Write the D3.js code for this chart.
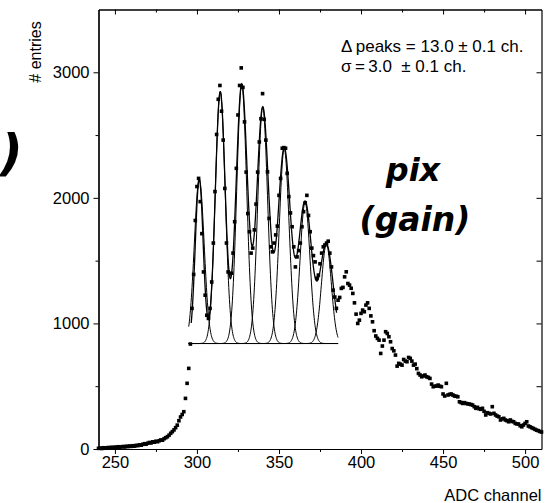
<!DOCTYPE html>
<html>
<head>
<meta charset="utf-8">
<script src="https://cdn.jsdelivr.net/npm/d3@7"></script>
<style>
  html, body { margin: 0; padding: 0; background: #fff; }
  svg { display: block; }
</style>
</head>
<body>
<script>
// ADC spectrum: entries per channel, starting at channel 240
const firstChannel = 240;
const counts = [
  5, 8, 4, 10, 6, 9, 12, 8, 14, 10,
  15, 13, 18, 14, 17, 20, 16, 22, 19, 24,
  21, 26, 23, 29, 27, 33, 30, 37, 42, 38,
  46, 52, 48, 57, 54, 62, 58, 66, 72, 70,
  82, 90, 98, 110, 125, 138, 152, 170, 190, 225,
  255, 275, 297, 403, 523, 642, 836,
  1120, 1390, 1820, 2090, 2155, 1970, 1715, 1410, 1225, 1065, 1040, 1120, 1330,
  1640, 2050, 2505, 2785, 2895, 2690, 2460, 2075, 1640, 1410,
  1395, 1400, 1560, 1810, 2235, 2660, 2895, 3035, 2880, 2605,
  2205, 1875, 1730, 1560, 1600, 1745, 1950, 2205, 2445, 2630,
  2830, 2625, 2460, 2207, 1836, 1610, 1570, 1640, 1705, 1775,
  2020, 2155, 2395, 2400, 2395, 2195, 2010, 1880, 1770, 1610,
  1450, 1530, 1580, 1640, 1770, 1890, 1960, 2020, 1860, 1730,
  1600, 1540, 1490, 1360, 1385, 1475, 1560, 1610, 1625, 1640,
  1655, 1560, 1450, 1265, 1210, 1120, 1185, 1207, 1279, 1287,
  1371, 1411, 1318, 1305, 1280, 1239, 1164, 1074, 1000, 1026,
  1080, 1106, 1093, 1146, 1164, 1120, 1060, 1013, 942, 900,
  881, 867, 761, 820, 867, 934, 920, 894, 854, 800,
  782, 748, 660, 682, 675, 668, 713, 700, 695, 729,
  722, 700, 668, 676, 640, 602, 589, 575, 582, 589,
  575, 570, 562, 517, 496, 500, 501, 509, 500, 496,
  438, 422, 523, 430, 435, 438, 430, 422, 420, 416,
  376, 370, 363, 369, 363, 360, 358, 354, 350, 337,
  324, 332, 320, 316, 324, 300, 271, 289, 284, 279,
  337, 284, 271, 262, 257, 231, 240, 244, 231, 225,
  217, 231, 220, 217, 204, 200, 199, 185, 177, 191,
  204, 217, 183, 177, 170, 164, 157, 150, 146, 140, 135
];

// Multi-peak Gaussian fit (photo-electron peaks)
const peakCenters    = [301.4, 314.2, 327.3, 340.1, 353.2, 365.9, 378.9];
const peakAmplitudes = [1310, 2005, 2065, 1880, 1550, 1125, 790];
const envelopeWidths = [2.4, 3.0, 3.45, 3.65, 3.8, 3.95, 4.05]; // widths of the summed fit curve
const componentSigma = 3.0;                                       // width of each drawn component
const fitBaseline    = 840;
const fitRange       = [296.5, 385];
const componentRange = [295, 386];

// Axis ticks
const xMajorTicks = [250, 300, 350, 400, 450, 500];
const xMinorTicks = [275, 325, 375, 425, 475];
const yMajorTicks = [0, 1000, 2000, 3000];
const yMinorTicks = [500, 1500, 2500];
const yRightTicks = [500, 1000, 1500, 2000, 2500, 3000];

const xLabel = "ADC channel";
const yLabel = "# entries";
const fitText = ["\u0394\u2009peaks = 13.0 \u00b1 0.1 ch.", "\u03c3\u2009=\u20093.0 \u00a0\u00b1 0.1 ch."];
const tagText = ["pix", "(gain)"];

const W = 545, H = 503;
const plot = { left: 98.5, right: 541.5, top: 9.5, bottom: 449 };
const textFont = "Arial, 'Liberation Sans', Helvetica, sans-serif";

const svg = d3.select("body").append("svg")
  .attr("width", W).attr("height", H)
  .attr("font-family", textFont);

const x = d3.scaleLinear().domain([240, 510]).range([plot.left, plot.right]);
const y = d3.scaleLinear().domain([0, 3500]).range([plot.bottom, plot.top]);

function styleAxis(g) {
  g.attr("font-family", textFont).attr("font-size", 16.5);
  g.select(".domain").attr("stroke", "#000").attr("stroke-width", 1.2);
  g.selectAll(".tick line").attr("stroke", "#000").attr("stroke-width", 1);
  g.selectAll(".tick text").attr("fill", "#000");
}
const fmt = d3.format("d");

// bottom axis
svg.append("g").attr("transform", `translate(0,${plot.bottom})`)
  .call(d3.axisBottom(x).tickValues(xMajorTicks).tickFormat(fmt).tickSize(5).tickPadding(2).tickSizeOuter(0))
  .call(styleAxis);
svg.append("g").attr("transform", `translate(0,${plot.bottom})`)
  .call(d3.axisBottom(x).tickValues(xMinorTicks).tickSize(3).tickFormat("").tickSizeOuter(0))
  .call(styleAxis);

// top axis (ticks inside)
svg.append("g").attr("transform", `translate(0,${plot.top})`)
  .call(d3.axisBottom(x).tickValues(xMajorTicks).tickSize(5).tickFormat("").tickSizeOuter(0))
  .call(styleAxis);
svg.append("g").attr("transform", `translate(0,${plot.top})`)
  .call(d3.axisBottom(x).tickValues(xMinorTicks).tickSize(3).tickFormat("").tickSizeOuter(0))
  .call(styleAxis);

// left axis
svg.append("g").attr("transform", `translate(${plot.left},0)`)
  .call(d3.axisLeft(y).tickValues(yMajorTicks).tickFormat(fmt).tickSize(5).tickPadding(4).tickSizeOuter(0))
  .call(styleAxis);
svg.append("g").attr("transform", `translate(${plot.left},0)`)
  .call(d3.axisLeft(y).tickValues(yMinorTicks).tickSize(3).tickFormat("").tickSizeOuter(0))
  .call(styleAxis);

// right axis (ticks inside)
svg.append("g").attr("transform", `translate(${plot.right},0)`)
  .call(d3.axisLeft(y).tickValues(yRightTicks).tickSize(5).tickFormat("").tickSizeOuter(0))
  .call(styleAxis);

// axis titles
svg.append("text")
  .attr("x", plot.right).attr("y", 501)
  .attr("text-anchor", "end").attr("font-size", "16.5px").attr("fill", "#000")
  .text(xLabel);
svg.append("text")
  .attr("transform", "translate(41,52) rotate(-90)")
  .attr("text-anchor", "middle").attr("font-size", "16px").attr("fill", "#000")
  .text(yLabel);

// Gaussian helpers
const gauss = (xv, c, a, s) => a * Math.exp(-((xv - c) * (xv - c)) / (2 * s * s));
const step = 0.2;

// individual components on the common baseline
const compLine = d3.line().x(d => x(d[0])).y(d => y(d[1]));
peakCenters.forEach((c, i) => {
  const pts = d3.range(componentRange[0], componentRange[1] + step / 2, step)
    .map(xv => [xv, fitBaseline + gauss(xv, c, peakAmplitudes[i], componentSigma)]);
  svg.append("path").attr("d", compLine(pts))
    .attr("fill", "none").attr("stroke", "#000").attr("stroke-width", 1);
});

// summed fit curve
const fitPts = d3.range(fitRange[0], fitRange[1] + step / 2, step).map(xv => {
  let v = fitBaseline;
  peakCenters.forEach((c, i) => { v += gauss(xv, c, peakAmplitudes[i], envelopeWidths[i]); });
  return [xv, v];
});
svg.append("path").attr("d", compLine(fitPts))
  .attr("fill", "none").attr("stroke", "#000").attr("stroke-width", 1.3);

// data points
const ms = 3.6;
svg.append("g").selectAll("rect")
  .data(counts.map((v, i) => [firstChannel + i, v]))
  .join("rect")
  .attr("x", d => x(d[0]) - ms / 2)
  .attr("y", d => y(d[1]) - ms / 2)
  .attr("width", ms).attr("height", ms)
  .attr("fill", "#000");

// fit result text
svg.append("g").selectAll("text").data(fitText).join("text")
  .attr("x", 341).attr("y", (d, i) => 52 + i * 20)
  .attr("font-size", "17px").attr("fill", "#000")
  .text(d => d);

// hand-lettered tag
const tagFont = "'Comic Sans MS', 'DejaVu Sans', sans-serif";
svg.append("g").selectAll("text").data(tagText).join("text")
  .attr("x", (d, i) => i === 0 ? 413 : 415)
  .attr("y", (d, i) => i === 0 ? 181 : 231)
  .attr("text-anchor", "middle")
  .attr("font-family", tagFont).attr("font-weight", "bold").attr("font-style", "italic")
  .attr("font-size", (d, i) => i === 0 ? "32px" : "33px").attr("fill", "#000")
  .text(d => d);

// closing bracket of the neighbouring tag
svg.append("text")
  .attr("x", 0).attr("y", 170)
  .attr("font-family", tagFont).attr("font-weight", "bold").attr("font-style", "italic")
  .attr("font-size", "50px").attr("fill", "#000")
  .text(")");
</script>
</body>
</html>
